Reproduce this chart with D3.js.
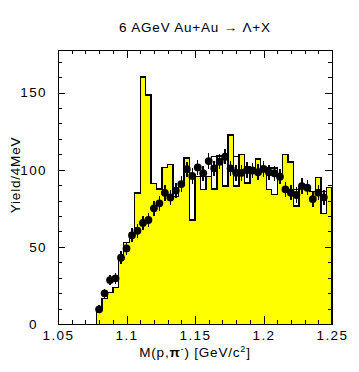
<!DOCTYPE html>
<html><head><meta charset="utf-8">
<script src="https://cdn.jsdelivr.net/npm/d3@7"></script>
<style>
html,body{margin:0;padding:0;background:#fff;}
svg{display:block;}
text{font-family:"Liberation Sans",Arial,Helvetica,sans-serif;fill:#000;}
</style></head>
<body>
<script>
// ---- data ----
const title = "6 AGeV Au+Au \u2192 \u039B+X";
const xTickLabels = ["1.05","1.1","1.15","1.2","1.25"];
const yTickLabels = ["0","50","100","150"];
const binStart = 1.078;
const binWidth = 0.004;
// yellow (filled) histogram, counts per 4 MeV bin
const yellowHist = [9.5,16.7,20.5,23.5,44,53,59,85,160,148.5,
  91,87.5,101.5,103.5,82.5,90,107.5,67.5,95.5,87,
  95.5,87.5,109,89.5,122.5,89.5,110,91.5,101.5,107,
  101,87,84,96,110,105,76.5,88,87.5,86,
  95,71.5,88.5];
// outline histogram
const outlineHist = [9.5,16.7,20.5,23.5,44,53,59,85,160,148.5,
  91,87.5,101.5,103.5,85.7,90,107.5,95.5,95.5,95.5,
  95.5,108.5,109,108.5,122.5,108.5,110,102,101.5,107,
  101,101,101,96,110,105,87,88,87.5,86,
  95,86,88.5];
// points (background estimate) at bin centres
const points = [9.5,19.9,28.5,29.6,43,49,57.5,60.5,65.5,67.4,
  75,78.2,85,82,86.5,90.7,100.3,96,101.5,97.7,
  105.6,100.9,105.2,108.4,100.9,98,98,99.8,99.5,98.4,
  100.5,98.3,97.7,95.5,87.3,85.1,83.6,89.4,88.3,81,
  85.1,82.1];
const pointErr = [2.5,3,3.5,3.5,4,4,4.5,4.5,4.5,4.5,
  5,5,5,5,5,5,5,5,5,5,
  5,5,5,5,5,5,5,5,5,5,
  5,5,5,5,5,5,5,5,5,5,
  5,5];

// ---- layout ----
const W = 359, H = 372;
const L = 58, R = 332, T = 50, B = 324;
const x = d3.scaleLinear().domain([1.05,1.25]).range([L,R]);
const y = d3.scaleLinear().domain([0,177.6]).range([B,T]);

const svg = d3.select("body").append("svg").attr("width",W).attr("height",H)
  .attr("shape-rendering","crispEdges");

svg.append("defs").append("clipPath").attr("id","clip")
  .append("rect").attr("x",L).attr("y",T).attr("width",R-L).attr("height",B-T);

function stepPoints(vals){
  const pts = [];
  vals.forEach((v,i)=>{
    const x0 = binStart + i*binWidth, x1 = x0 + binWidth;
    pts.push([x0,v],[x1,v]);
  });
  return pts;
}
const g = svg.append("g").attr("clip-path","url(#clip)");

const area = d3.area().x(d=>x(d[0])).y0(y(0)).y1(d=>y(d[1]));
const line = d3.line().x(d=>x(d[0])).y(d=>y(d[1]));
const closedLine = pts => line([[pts[0][0],0],...pts,[pts[pts.length-1][0],0]]);

// outline histogram
const outPts = stepPoints(outlineHist);
g.append("path").attr("d",closedLine(outPts)).attr("fill","none").attr("stroke","#000").attr("stroke-width",1.4);

// yellow histogram
const yelPts = stepPoints(yellowHist);
g.append("path").attr("d",area(yelPts)).attr("fill","#ffff00").attr("stroke","none");
g.append("path").attr("d",closedLine(yelPts)).attr("fill","none").attr("stroke","#000").attr("stroke-width",1.4);

// points with error bars
const pg = g.append("g");
points.forEach((v,i)=>{
  const cx = x(binStart + (i+0.5)*binWidth);
  pg.append("line").attr("x1",cx).attr("x2",cx)
    .attr("y1",y(v-pointErr[i])).attr("y2",y(v+pointErr[i]))
    .attr("stroke","#000").attr("stroke-width",1.5);
  pg.append("circle").attr("cx",cx).attr("cy",y(v)).attr("r",3.9)
    .attr("fill","#000").attr("shape-rendering","auto");
});

// ---- axes ----
const xMajor = xTickLabels.map(Number);
const xMinor = d3.range(0,21).map(i=>+(1.05+i*0.01).toFixed(3));
const yMajor = yTickLabels.map(Number);
const yMinor = d3.range(0,18).map(i=>i*10);

function styleAxis(sel){
  sel.select(".domain").remove();
  sel.selectAll("line").attr("stroke","#000");
  sel.selectAll("text").style("font-size","13.5px").style("letter-spacing","1.4px");
}
svg.append("g").attr("transform",`translate(0,${B})`)
  .call(d3.axisBottom(x).tickValues(xMinor).tickSize(-4).tickFormat("")).call(styleAxis);
svg.append("g").attr("transform",`translate(0,${B})`)
  .call(d3.axisBottom(x).tickValues(xMajor).tickSize(-8).tickPadding(6)
    .tickFormat((d,i)=>xTickLabels[i])).call(styleAxis);
svg.append("g").attr("transform",`translate(0,${T})`)
  .call(d3.axisTop(x).tickValues(xMinor).tickSize(-4).tickFormat("")).call(styleAxis);
svg.append("g").attr("transform",`translate(0,${T})`)
  .call(d3.axisTop(x).tickValues(xMajor).tickSize(-8).tickFormat("")).call(styleAxis);

svg.append("g").attr("transform",`translate(${L},0)`)
  .call(d3.axisLeft(y).tickValues(yMinor).tickSize(-4).tickFormat("")).call(styleAxis);
const yl = svg.append("g").attr("transform",`translate(${L},0)`)
  .call(d3.axisLeft(y).tickValues(yMajor).tickSize(-7).tickPadding(11)
    .tickFormat((d,i)=>yTickLabels[i])).call(styleAxis);
yl.selectAll(".tick").filter(d=>d===0).select("text").attr("x",-20);
svg.append("g").attr("transform",`translate(${R},0)`)
  .call(d3.axisRight(y).tickValues(yMinor).tickSize(-4).tickFormat("")).call(styleAxis);
svg.append("g").attr("transform",`translate(${R},0)`)
  .call(d3.axisRight(y).tickValues(yMajor).tickSize(-7).tickFormat("")).call(styleAxis);

// frame
svg.append("rect").attr("x",L).attr("y",T).attr("width",R-L).attr("height",B-T)
  .attr("fill","none").attr("stroke","#000").attr("stroke-width",1);

// title
svg.append("text").attr("x",(L+R)/2).attr("y",32).attr("text-anchor","middle")
  .style("font-size","13.5px").style("letter-spacing","0.8px").text(title);

// x label
const xl = svg.append("text").attr("x",(L+R)/2).attr("y",357).attr("text-anchor","middle")
  .style("font-size","13.5px").style("letter-spacing","0.8px");
xl.append("tspan").text("M(p,");
xl.append("tspan").style("font-weight","bold").text("\u03C0");
xl.append("tspan").attr("dy",-5).style("font-size","9px").text("-");
xl.append("tspan").attr("dy",5).text(") [GeV/c");
xl.append("tspan").attr("dy",-5).style("font-size","9px").text("2");
xl.append("tspan").attr("dy",5).text("]");

// y label
svg.append("text").attr("transform","translate(20,175) rotate(-90)").attr("text-anchor","middle")
  .style("font-size","13.5px").style("letter-spacing","0.8px").text("Yield/4MeV");
</script>
</body></html>
